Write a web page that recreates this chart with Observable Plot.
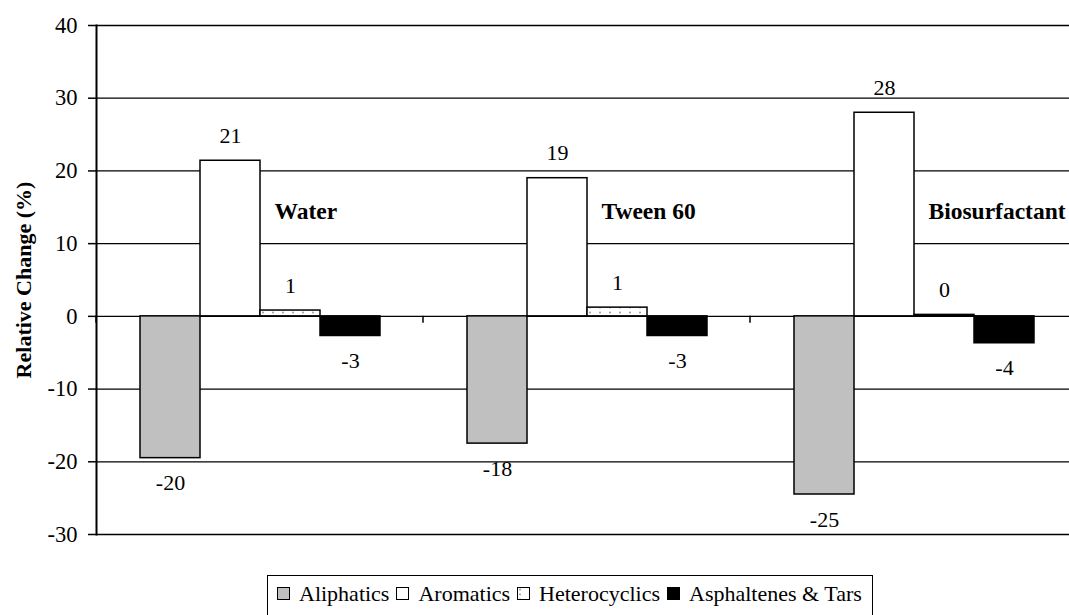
<!DOCTYPE html>
<html>
<head>
<meta charset="utf-8">
<script src="https://cdn.jsdelivr.net/npm/d3@7"></script>
<script src="https://cdn.jsdelivr.net/npm/@observablehq/plot@0.6"></script>
<style>
  html, body { margin: 0; padding: 0; background: #fff; overflow: hidden; }
  #wrap { position: relative; width: 1069px; height: 615px; overflow: hidden; }
  #chart svg, #chart svg text { font-family: "Liberation Serif", "DejaVu Serif", serif; }
  #legend {
    position: absolute; left: 267px; top: 575px; height: 48px; box-sizing: border-box;
    border: 1.5px solid #000; padding: 5px 10px 0 9px; display: flex; align-items: flex-start;
    font-family: "Liberation Serif", "DejaVu Serif", serif; font-size: 22px; line-height: 25px;
    white-space: nowrap; background: #fff;
  }
  #legend .item { display: flex; align-items: center; margin-right: 7px; }
  #legend .item:last-child { margin-right: 0; }
  #legend svg { margin-right: 9px; flex: none; }
</style>
</head>
<body>
<svg width="0" height="0" style="position:absolute">
  <defs>
    <pattern id="dots" patternUnits="userSpaceOnUse" width="10" height="5">
      <rect width="10" height="5" fill="#fff"></rect>
      <circle cx="3" cy="2.5" r="1" fill="#9a9a9a"></circle>
    </pattern>
  </defs>
</svg>
<div id="wrap">
  <div id="chart"></div>
  <div id="legend"></div>
</div>
<script>
// Treatments (categories) and fractions (series)
const groups = ["Water", "Tween 60", "Biosurfactant"];
const series = ["Aliphatics", "Aromatics", "Heterocyclics", "Asphaltenes & Tars"];

// Relative change (%) of each fraction, one value per treatment
const aliphatics = [-19.5, -17.5, -24.5];
const aromatics = [21.4, 19.0, 28.0];
const heterocyclics = [0.8, 1.2, 0.2];
const asphaltenes = [-2.7, -2.7, -3.7];

const yTicks = [-30, -20, -10, 0, 10, 20, 30, 40];
const yLabel = "Relative Change (%)";

const seriesValues = [aliphatics, aromatics, heterocyclics, asphaltenes];
const seriesFills = ["#c0c0c0", "#ffffff", "url(#dots)", "#000000"];

const rows = groups.flatMap((g, gi) =>
  series.map((s, si) => ({group: g, series: s, value: seriesValues[si][gi]}))
);
const fmt = (v) => v.toFixed(0);
const serif = '"Liberation Serif", "DejaVu Serif", serif';

// Small downward tick at the left edge of every category band, on the zero line
const categoryTick = (index, scales, values, dimensions) => {
  const y0 = scales.y(0);
  const x0 = dimensions.marginLeft;
  return d3.create("svg:line")
    .attr("x1", x0).attr("x2", x0)
    .attr("y1", y0).attr("y2", y0 + 7)
    .attr("stroke", "#000").attr("stroke-width", 1.5)
    .node();
};

const chart = Plot.plot({
  width: 1069,
  height: 573,
  marginLeft: 96,
  marginRight: -8,
  marginTop: 25,
  marginBottom: 39,
  style: {fontFamily: serif, fontSize: "22px", color: "#000", background: "#fff", overflow: "hidden"},
  fx: {domain: groups, padding: 0, axis: null},
  x: {domain: series, paddingInner: 0, paddingOuter: 0.72, axis: null},
  y: {domain: [-30, 40], axis: null},
  color: {type: "ordinal", domain: series, range: seriesFills},
  marks: [
    Plot.gridY(yTicks, {stroke: "#000", strokeOpacity: 1, strokeWidth: 1.3}),
    Plot.axisY(yTicks, {
      tickSize: 8, tickPadding: 11, strokeWidth: 1.5, fontSize: 22.5,
      tickFormat: (d) => String(d), label: null
    }),
    Plot.barY(rows, {fx: "group", x: "series", y: "value", fill: "series", stroke: "#000", strokeWidth: 1.5}),
    categoryTick,
    Plot.frame({anchor: "left", facet: "super", strokeWidth: 2}),
    Plot.text(rows.filter((d) => d.value >= 0), {
      fx: "group", x: "series", y: "value", text: (d) => fmt(d.value), dy: -25, fontSize: 22
    }),
    Plot.text(rows.filter((d) => d.value < 0), {
      fx: "group", x: "series", y: "value", text: (d) => fmt(d.value), dy: 25, fontSize: 22
    }),
    Plot.text(groups, {
      fx: (d) => d, x: () => "Heterocyclics", y: () => 14.4, text: (d) => d,
      textAnchor: "start", dx: -16, fontWeight: "bold", fontSize: 23.5
    }),
    Plot.text([yLabel], {
      facet: "super", frameAnchor: "left", textAnchor: "middle", rotate: -90, dx: -73,
      fontWeight: "bold", fontSize: 22
    })
  ]
});
document.getElementById("chart").appendChild(chart);

// Legend below the chart
const legend = d3.select("#legend");
series.forEach((s, i) => {
  const item = legend.append("div").attr("class", "item");
  const sw = item.append("svg").attr("width", 13).attr("height", 13);
  sw.append("rect")
    .attr("x", 0.5).attr("y", 0.5).attr("width", 12).attr("height", 12)
    .attr("fill", seriesFills[i]).attr("stroke", "#000").attr("stroke-width", 1);
  item.append("span").text(s);
});
</script>
</body>
</html>
